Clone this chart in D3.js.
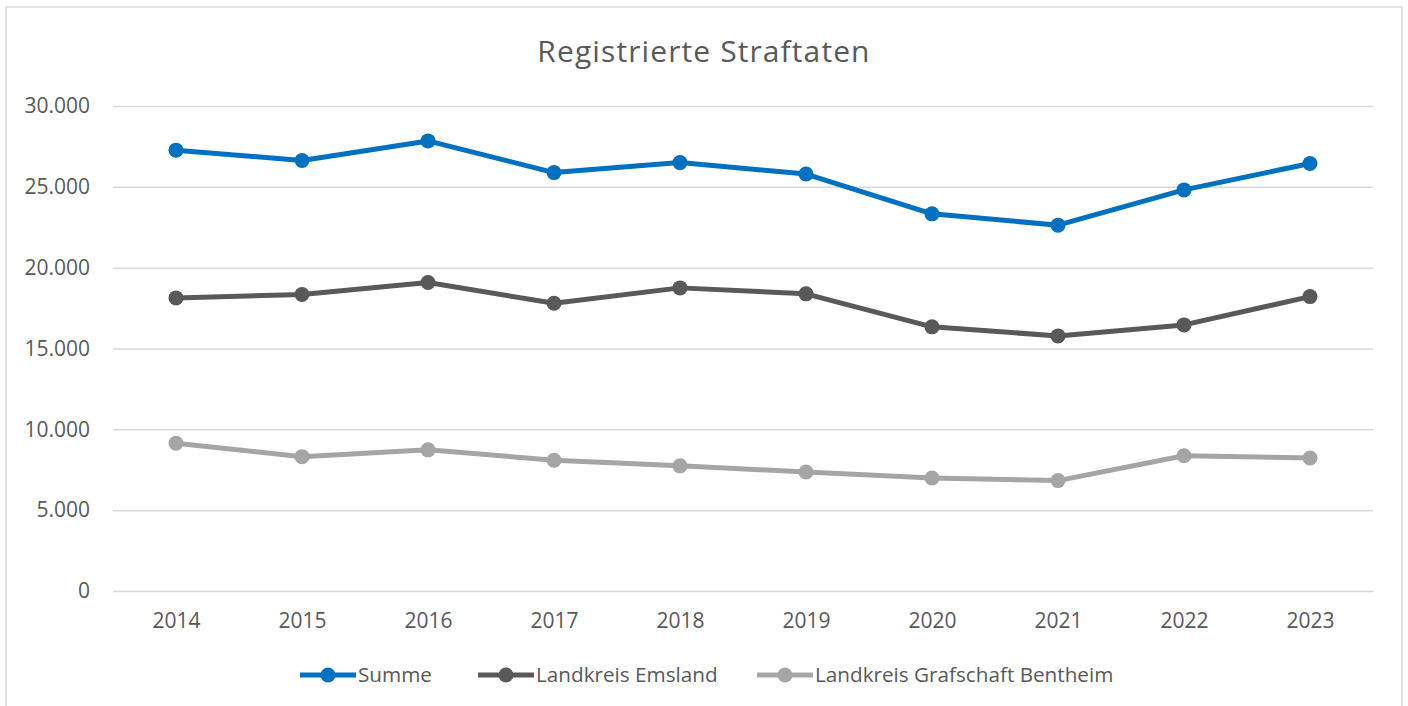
<!DOCTYPE html>
<html>
<head>
<meta charset="utf-8">
<script src="https://cdn.jsdelivr.net/npm/d3@7"></script>
<style>
  body { margin: 0; background: #fff; }
  text { font-family: "Open Sans", sans-serif; fill: #595959; }
</style>
</head>
<body>
<script>
// data
var years = ["2014", "2015", "2016", "2017", "2018", "2019", "2020", "2021", "2022", "2023"];
var summe = [27270, 26630, 27840, 25880, 26500, 25790, 23330, 22630, 24810, 26440];
var emsland = [18130, 18340, 19080, 17800, 18750, 18380, 16340, 15780, 16460, 18210];
var bentheim = [9140, 8310, 8730, 8090, 7740, 7360, 6990, 6830, 8370, 8230];
var yTicks = [0, 5000, 10000, 15000, 20000, 25000, 30000];
var seriesNames = ["Summe", "Landkreis Emsland", "Landkreis Grafschaft Bentheim"];

var colors = ["#0070C0", "#595959", "#A5A5A5"];
var series = [summe, emsland, bentheim];

var W = 1408, H = 706;
var margin = { top: 106, right: 35, bottom: 115, left: 113 };

var svg = d3.select("body").append("svg")
    .attr("width", W)
    .attr("height", H);

// chart frame
svg.append("rect")
    .attr("x", 6).attr("y", 7)
    .attr("width", 1396).attr("height", 720)
    .attr("fill", "#fff")
    .attr("stroke", "#d9d9d9")
    .attr("stroke-width", 1.5);

var de = d3.formatLocale({ decimal: ",", thousands: ".", grouping: [3], currency: ["", "€"] });
var fmt = de.format(",.0f");

var xScale = d3.scalePoint()
    .domain(years)
    .range([margin.left, W - margin.right])
    .padding(0.5);

var yScale = d3.scaleLinear()
    .domain([0, 30000])
    .range([H - margin.bottom, margin.top]);

// title
svg.append("text")
    .attr("x", 704)
    .attr("y", 62)
    .attr("text-anchor", "middle")
    .style("font-size", "30px")
    .style("letter-spacing", "1.1px")
    .text("Registrierte Straftaten");

// gridlines + y labels
var yAxis = svg.append("g")
    .attr("class", "y-axis")
    .attr("transform", "translate(" + margin.left + ",0)")
    .call(d3.axisLeft(yScale)
        .tickValues(yTicks)
        .tickSize(-(W - margin.left - margin.right))
        .tickPadding(23)
        .tickFormat(fmt));
yAxis.select(".domain").remove();
yAxis.selectAll("line").attr("stroke", "#d9d9d9").attr("stroke-width", 1.5);
yAxis.selectAll("text")
    .style("font-size", "21px")
    .attr("fill", "#595959");

// x labels
var xAxis = svg.append("g")
    .attr("class", "x-axis")
    .attr("transform", "translate(0," + (H - margin.bottom) + ")")
    .call(d3.axisBottom(xScale).tickSize(0).tickPadding(22));
xAxis.select(".domain").remove();
xAxis.selectAll("text")
    .style("font-size", "21px")
    .attr("fill", "#595959");

// lines and markers, last series drawn first so Summe stays on top
var line = d3.line()
    .x(function (d, i) { return xScale(years[i]); })
    .y(function (d) { return yScale(d); });

for (var s = series.length - 1; s >= 0; s--) {
    svg.append("path")
        .datum(series[s])
        .attr("d", line)
        .attr("fill", "none")
        .attr("stroke", colors[s])
        .attr("stroke-width", 5)
        .attr("stroke-linejoin", "round");

    svg.selectAll(".dot" + s)
        .data(series[s])
        .enter()
        .append("circle")
        .attr("class", "dot" + s)
        .attr("cx", function (d, i) { return xScale(years[i]); })
        .attr("cy", function (d) { return yScale(d); })
        .attr("r", 7.5)
        .attr("fill", colors[s]);
}

// legend
var legendX = [300, 478, 757];
var legend = svg.append("g").attr("class", "legend");
seriesNames.forEach(function (name, i) {
    var g = legend.append("g").attr("transform", "translate(" + legendX[i] + ",675)");
    g.append("line")
        .attr("x1", 0).attr("x2", 56)
        .attr("stroke", colors[i])
        .attr("stroke-width", 5);
    g.append("circle")
        .attr("cx", 28).attr("r", 7.5)
        .attr("fill", colors[i]);
    g.append("text")
        .attr("x", 58)
        .attr("y", 7)
        .style("font-size", "20.7px")
        .text(name);
});
</script>
</body>
</html>
